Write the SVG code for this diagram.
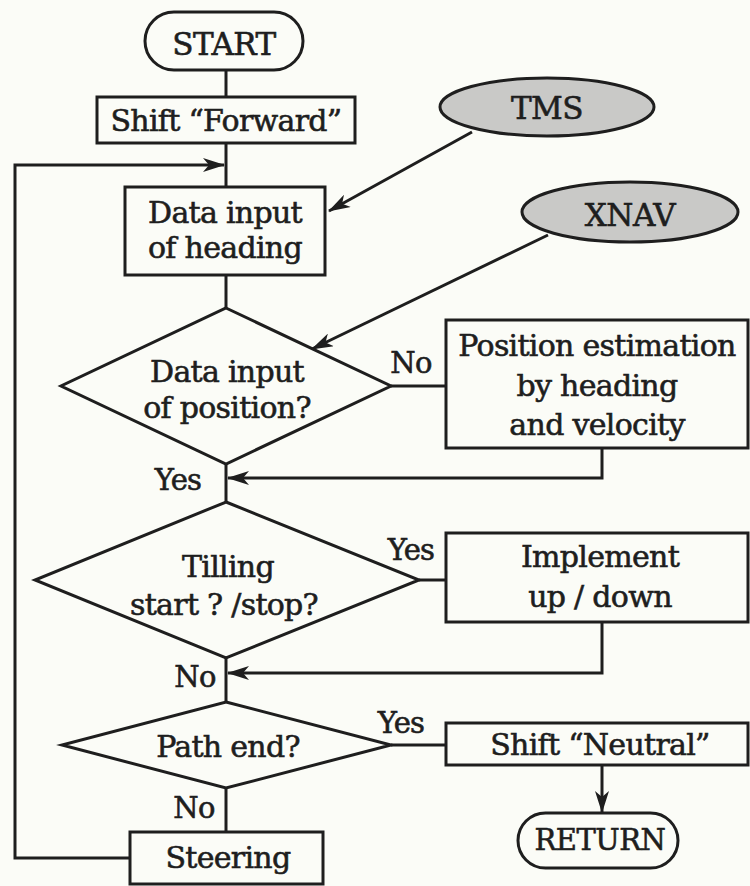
<svg xmlns="http://www.w3.org/2000/svg" width="750" height="886" viewBox="0 0 750 886">
<style>
  .bg { fill: #fbfcf7; }
  .shape { fill: #fbfcf7; stroke: #1e1e1e; stroke-width: 3; }
  .oval { fill: #c9c9c7; stroke: #1e1e1e; stroke-width: 3; }
  .conn { fill: none; stroke: #1e1e1e; stroke-width: 3; }
  text { font-family: "DejaVu Serif", "Liberation Serif", serif; font-size: 30px; fill: #1e1e1e; stroke: #1e1e1e; stroke-width: 0.6; text-anchor: middle; letter-spacing: -0.7px; }
  .caps { font-size: 31px; letter-spacing: -0.5px; }
  .lbl { font-size: 29px; }
</style>
<defs>
  <marker id="arr" viewBox="0 0 22 14" refX="21" refY="7" markerWidth="22" markerHeight="14" markerUnits="userSpaceOnUse" orient="auto">
    <path d="M0,0 L22,7 L0,14 L6,7 Z" fill="#1e1e1e"/>
  </marker>
</defs>
<rect class="bg" x="0" y="0" width="750" height="886"/>

<g id="connectors">
  <line class="conn" x1="226" y1="70" x2="226" y2="97"/>
  <line class="conn" x1="226" y1="143" x2="226" y2="187"/>
  <line class="conn" x1="226" y1="275" x2="226" y2="308"/>
  <line class="conn" x1="226" y1="464" x2="226" y2="502"/>
  <line class="conn" x1="226" y1="658" x2="226" y2="702"/>
  <line class="conn" x1="226" y1="788" x2="226" y2="832"/>
  <line class="conn" x1="472" y1="132" x2="329" y2="211" marker-end="url(#arr)"/>
  <line class="conn" x1="548" y1="235" x2="312" y2="349" marker-end="url(#arr)"/>
  <line class="conn" x1="391" y1="386" x2="446" y2="386"/>
  <polyline class="conn" points="602,448 602,478 228,478" marker-end="url(#arr)"/>
  <line class="conn" x1="419" y1="580" x2="446" y2="580"/>
  <polyline class="conn" points="602,622 602,673 228,673" marker-end="url(#arr)"/>
  <line class="conn" x1="391" y1="745" x2="446" y2="745"/>
  <line class="conn" x1="602" y1="765" x2="602" y2="812" marker-end="url(#arr)"/>
  <polyline class="conn" points="130,858 15,858 15,165 224,165" marker-end="url(#arr)"/>
</g>

<g id="start">
  <rect class="shape" x="145" y="12" width="158" height="58" rx="29"/>
  <text class="caps" x="224" y="55">START</text>
</g>
<g id="shift-forward">
  <rect class="shape" x="97" y="97" width="258" height="46"/>
  <text x="226" y="131">Shift “Forward”</text>
</g>
<g id="tms">
  <ellipse class="oval" cx="547" cy="107" rx="107" ry="29"/>
  <text class="caps" x="547" y="119">TMS</text>
</g>
<g id="data-heading">
  <rect class="shape" x="125" y="187" width="200" height="88"/>
  <text x="225" y="223">Data input</text>
  <text x="225" y="258">of heading</text>
</g>
<g id="xnav">
  <ellipse class="oval" cx="630" cy="212" rx="108" ry="30"/>
  <text class="caps" x="630" y="226">XNAV</text>
</g>
<g id="decision-position">
  <polygon class="shape" points="226,308 391,386 226,464 61,386"/>
  <text x="227" y="382">Data input</text>
  <text x="227" y="418">of position?</text>
</g>
<g id="position-estimation">
  <rect class="shape" x="446" y="320" width="302" height="128"/>
  <text x="597" y="356">Position estimation</text>
  <text x="597" y="396">by heading</text>
  <text x="597" y="435">and velocity</text>
</g>
<g id="decision-tilling">
  <polygon class="shape" points="226,502 419,580 226,658 35,580"/>
  <text x="228" y="577">Tilling</text>
  <text x="224" y="615">start ? /stop?</text>
</g>
<g id="implement">
  <rect class="shape" x="446" y="533" width="302" height="89"/>
  <text x="600" y="567">Implement</text>
  <text x="600" y="607">up / down</text>
</g>
<g id="decision-path">
  <polygon class="shape" points="226,702 391,745 226,788 62,745"/>
  <text x="228" y="757">Path end?</text>
</g>
<g id="shift-neutral">
  <rect class="shape" x="446" y="723" width="302" height="42"/>
  <text x="600" y="755">Shift “Neutral”</text>
</g>
<g id="return">
  <rect class="shape" x="518" y="813" width="160" height="55" rx="27.5"/>
  <text x="600" y="850" style="font-size:29px;letter-spacing:-0.5px">RETURN</text>
</g>
<g id="steering">
  <rect class="shape" x="130" y="832" width="193" height="52"/>
  <text x="228" y="868">Steering</text>
</g>

<g id="labels">
  <text class="lbl" x="411" y="373">No</text>
  <text class="lbl" x="178" y="490">Yes</text>
  <text class="lbl" x="411" y="560">Yes</text>
  <text class="lbl" x="195" y="687">No</text>
  <text class="lbl" x="401" y="733">Yes</text>
  <text class="lbl" x="194" y="818">No</text>
</g>
</svg>
